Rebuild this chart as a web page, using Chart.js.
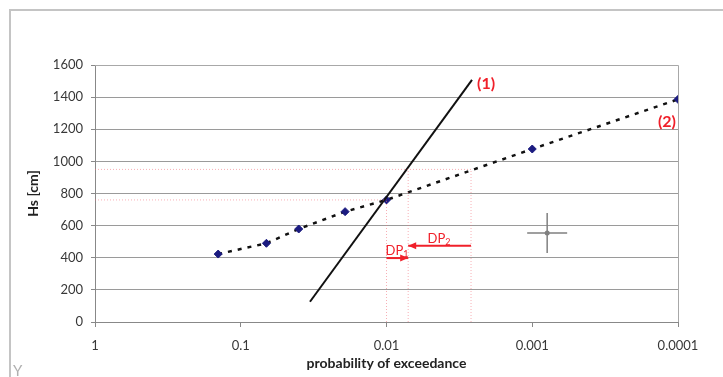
<!DOCTYPE html>
<html><head><meta charset="utf-8">
<script src="https://cdn.jsdelivr.net/npm/chart.js@4.4.0/dist/chart.umd.min.js"></script>
<style>html,body{margin:0;padding:0;background:#fff}#wrap{width:723px;height:377px;position:relative}</style>
</head><body><div id="wrap"><canvas id="c" width="723" height="377"></canvas></div>
<script>
// ---- data ----
const xTicks = [1, 0.1, 0.01, 0.001, 0.0001];
const xTickLabels = ['1', '0.1', '0.01', '0.001', '0.0001'];
const yMin = 0, yMax = 1600, yStep = 200;
// observed points, curve (2)
const probs = [1/7, 1/15, 1/25, 1/52, 0.01, 0.001, 0.0001];
const hsObs = [423, 490, 579, 687, 760, 1077, 1386];
// curve (1)
const line1Prob = [0.0335, 0.00259];
const line1Hs = [126, 1507];
// red reference lines
const refVertProb = [0.01, 0.0071, 0.00263];
const refVertHs = [760, 950, 950];
const refHorzHs = [760, 950];
const refHorzEnd = [0.01, 0.00263];
// DP arrows
const dp1Prob = [0.01, 0.0071];
const dp1Hs = [398, 398];
const dp2Prob = [0.0071, 0.00263];
const dp2Hs = [475, 475];
// cross marker
const crossProb = [0.00079];
const crossHs = [554];

const FONT = 'Lato, "Open Sans", sans-serif';
const RED = '#f0202a';
const PINK = 'rgba(240,110,120,0.55)';

const zip = (xs, ys) => xs.map((x, i) => ({x, y: ys[i]}));

const datasets = [];
refVertProb.forEach((p, i) => datasets.push({
  data: zip([p, p], [0, refVertHs[i]]), showLine: true, borderColor: PINK,
  borderWidth: 1, borderDash: [1, 2], pointRadius: 0
}));
refHorzHs.forEach((h, i) => datasets.push({
  data: zip([1, refHorzEnd[i]], [h, h]), showLine: true, borderColor: PINK,
  borderWidth: 1, borderDash: [1, 2], pointRadius: 0
}));
datasets.push({ data: zip(dp1Prob, dp1Hs), showLine: true, borderColor: RED, borderWidth: 2, pointRadius: 0 });
datasets.push({ data: zip(dp2Prob, dp2Hs), showLine: true, borderColor: RED, borderWidth: 2, pointRadius: 0 });
datasets.push({ data: zip(line1Prob, line1Hs), showLine: true, borderColor: '#111', borderWidth: 2, pointRadius: 0 });
datasets.push({ data: zip(probs, hsObs), showLine: true, tension: 0, borderColor: '#111', borderWidth: 2.5, borderDash: [4, 6],
  pointStyle: 'rectRot', pointRadius: 4, pointBackgroundColor: '#1b1b80', pointBorderColor: '#1b1b80', pointBorderWidth: 1 });
datasets.push({ data: zip(crossProb, crossHs), showLine: false, pointStyle: 'cross', pointRadius: 20,
  pointBorderColor: '#808080', pointBorderWidth: 1.5 });
datasets.push({ data: zip(crossProb, crossHs), showLine: false, pointStyle: 'circle', pointRadius: 2.5,
  pointBackgroundColor: '#808080', pointBorderColor: '#808080', pointBorderWidth: 0 });

const deco = {
  id: 'deco',
  beforeDraw(chart) {
    const c = chart.ctx;
    c.save();
    c.fillStyle = '#fff';
    c.fillRect(0, 0, chart.width, chart.height);
    c.strokeStyle = '#c4c4c4';
    c.lineWidth = 2;
    c.beginPath();
    c.moveTo(10, chart.height); c.lineTo(10, 10); c.lineTo(chart.width, 10);
    c.stroke();
    c.fillStyle = '#b0b0b0';
    c.font = '15px ' + FONT;
    c.textBaseline = 'alphabetic';
    c.fillText('Y', 13, 376);
    c.restore();
  },
  beforeDatasetsDraw(chart) {
    const c = chart.ctx, a = chart.chartArea;
    c.save();
    c.strokeStyle = '#a8a8a8';
    c.lineWidth = 1;
    c.beginPath();
    c.moveTo(a.left, a.top + 0.5); c.lineTo(a.right + 0.5, a.top + 0.5); c.lineTo(a.right + 0.5, a.bottom);
    c.stroke();
    c.restore();
  },
  afterDatasetsDraw(chart) {
    const c = chart.ctx, xs = chart.scales.x, ys = chart.scales.y;
    const px = v => xs.getPixelForValue(v), py = v => ys.getPixelForValue(v);
    c.save();
    const head = (x, y, dir) => {
      c.beginPath();
      c.moveTo(x, y); c.lineTo(x - dir * 8, y - 3.5); c.lineTo(x - dir * 8, y + 3.5); c.closePath();
      c.fillStyle = RED; c.fill();
    };
    head(px(dp1Prob[1]), py(dp1Hs[1]), 1);
    head(px(dp2Prob[0]), py(dp2Hs[0]), -1);
    const dpLabel = (x, y, sub) => {
      c.fillStyle = RED;
      c.textBaseline = 'alphabetic';
      c.textAlign = 'left';
      c.font = '13px ' + FONT;
      c.fillText('DP', x, y);
      const w = c.measureText('DP').width;
      c.font = '9px ' + FONT;
      c.fillText(sub, x + w, y + 2);
    };
    dpLabel(px(dp1Prob[0]) - 1, py(dp1Hs[0]) - 3, '1');
    dpLabel((px(dp2Prob[0]) + px(dp2Prob[1])) / 2 - 12, py(dp2Hs[0]) - 3, '2');
    c.font = 'bold 16px ' + FONT;
    c.fillStyle = RED;
    c.textBaseline = 'middle';
    c.textAlign = 'left';
    c.fillText('(1)', px(line1Prob[1]) + 5, py(line1Hs[1]) + 4);
    c.textAlign = 'right';
    c.fillText('(2)', px(probs[probs.length - 1]) - 2, py(hsObs[hsObs.length - 1]) + 22);
    c.restore();
  }
};

new Chart(document.getElementById('c'), {
  type: 'scatter',
  data: { datasets },
  plugins: [deco],
  options: {
    responsive: false,
    animation: false,
    layout: { padding: { top: 65, right: 45, left: 0, bottom: 0 } },
    plugins: { legend: { display: false }, tooltip: { enabled: false } },
    scales: {
      x: {
        type: 'logarithmic', reverse: true, min: 0.0001, max: 1, position: 'bottom',
        afterBuildTicks: s => { s.ticks = xTicks.map(v => ({ value: v, major: true })); },
        afterFit: s => { s.height = 55; },
        ticks: {
          autoSkip: false, maxRotation: 0, padding: 11, color: '#383838',
          font: { family: FONT, size: 13 },
          callback: v => xTickLabels[xTicks.indexOf(v)]
        },
        grid: { drawOnChartArea: false, drawTicks: true, tickLength: 5, color: '#888' },
        border: { display: true, color: '#888', width: 1 },
        title: { display: true, text: 'probability of exceedance', color: '#222',
          font: { family: FONT, size: 14, weight: 'bold' }, padding: { top: 0, bottom: 5 } }
      },
      y: {
        type: 'linear', min: yMin, max: yMax,
        afterFit: s => { s.width = 95; },
        ticks: { stepSize: yStep, padding: 8, color: '#383838', font: { family: FONT, size: 13 },
          callback: v => String(v) },
        grid: { color: '#9a9a9a', borderDash: [2, 2], tickLength: 4, tickBorderDash: [], tickColor: '#888' },
        border: { display: true, color: '#888', width: 1 },
        title: { display: true, text: 'Hs [cm]', color: '#222',
          font: { family: FONT, size: 14, weight: 'bold' }, padding: { top: 25, bottom: 0 } }
      }
    }
  }
});
</script></body></html>
